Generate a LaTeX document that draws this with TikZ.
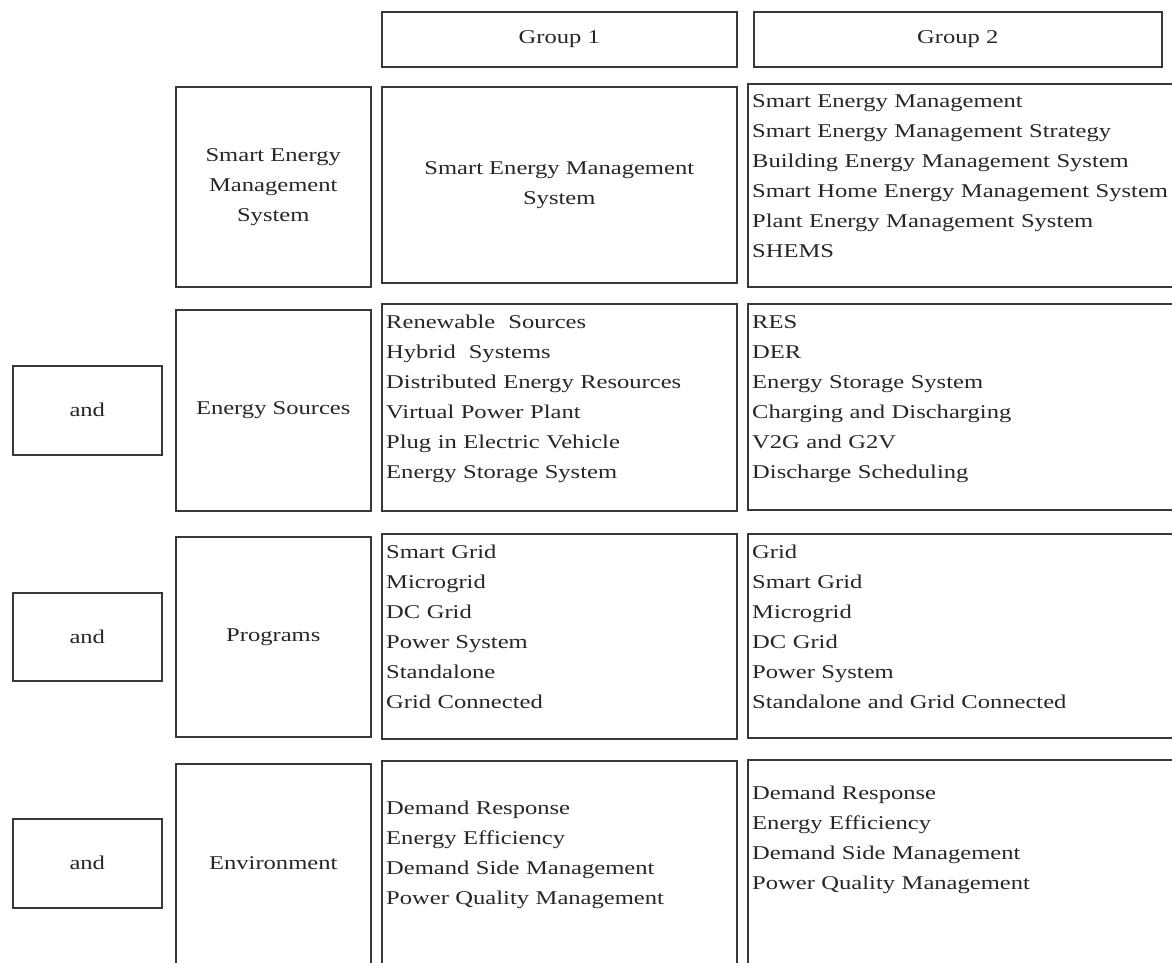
\documentclass[tikz,border=0pt]{standalone}
\usepackage{fontspec}
\setmainfont{Liberation Serif}[FakeStretch=1.26]
\newcommand\fsz{\fontsize{19.5}{30}\selectfont}
\newcommand\bx[5]{\node[box, minimum width={(#4-#2)*1pt}, minimum height={(#5-#3)*1pt}, anchor=north west] (#1) at (#2,#3) {};}
\tikzset{
  box/.style={draw=black!78, line width=1.5pt, rectangle, inner sep=0pt, fill=none},
  ctext/.style={align=center, font=\fsz, text=black!85, inner sep=0pt},
  ltext/.style={align=left, text width=420pt, anchor=base west, font=\fsz, text=black!85, inner sep=0pt},
}
\begin{document}
\begin{tikzpicture}[x=1pt, y=-1pt]
\useasboundingbox (0,0) rectangle (1172,962);
\clip (0,0) rectangle (1172,962);
% headers
\bx{hg1}{381}{11}{736}{66}
\bx{hg2}{753}{11}{1161}{66}
% row 1
\bx{lab1}{175}{86}{370}{286}
\bx{g1r1}{381}{86}{736}{282}
\bx{g2r1}{747}{83}{1190}{286}
% row 2
\bx{and2}{12}{365}{161}{454}
\bx{lab2}{175}{309}{370}{510}
\bx{g1r2}{381}{303}{736}{510}
\bx{g2r2}{747}{303}{1190}{509}
% row 3
\bx{and3}{12}{592}{161}{680}
\bx{lab3}{175}{536}{370}{736}
\bx{g1r3}{381}{533}{736}{738}
\bx{g2r3}{747}{533}{1190}{737}
% row 4
\bx{and4}{12}{818}{161}{907}
\bx{lab4}{175}{763}{370}{985}
\bx{g1r4}{381}{760}{736}{985}
\bx{g2r4}{747}{759}{1190}{985}

% header texts
\node[ctext] (thg1) at (hg1.center) {Group 1};
\node[ctext] (thg2) at (hg2.center) {Group 2};

% label texts
\node[ctext] (tlab1) at (lab1.center) {Smart Energy\\Management\\System};
\node[ctext] (tlab2) at (lab2.center) {Energy Sources};
\node[ctext] (tlab3) at (lab3.center) {Programs};
\node[ctext] (tlab4) at (lab4.center |- and4.center) {Environment};
\node[ctext] (tand2) at (and2.center) {and};
\node[ctext] (tand3) at (and3.center) {and};
\node[ctext] (tand4) at (and4.center) {and};

% row 1 contents
\node[ctext] (tg1r1) at (g1r1.center) {Smart Energy Management\\System};
\node[ltext] (tg2r1) at ([xshift=5pt, yshift=-24pt]g2r1.north west) {Smart Energy Management\\Smart Energy Management Strategy\\Building Energy Management System\\Smart Home Energy Management System\\Plant Energy Management System\\SHEMS};

% row 2 contents
\node[ltext] (tg1r2) at ([xshift=5pt, yshift=-25pt]g1r2.north west) {Renewable\ \ Sources\\Hybrid\ \ Systems\\Distributed Energy Resources\\Virtual Power Plant\\Plug in Electric Vehicle\\Energy Storage System};
\node[ltext] (tg2r2) at ([xshift=5pt, yshift=-25pt]g2r2.north west) {RES\\DER\\Energy Storage System\\Charging and Discharging\\V2G and G2V\\Discharge Scheduling};

% row 3 contents
\node[ltext] (tg1r3) at ([xshift=5pt, yshift=-25pt]g1r3.north west) {Smart Grid\\Microgrid\\DC Grid\\Power System\\Standalone\\Grid Connected};
\node[ltext] (tg2r3) at ([xshift=5pt, yshift=-25pt]g2r3.north west) {Grid\\Smart Grid\\Microgrid\\DC Grid\\Power System\\Standalone and Grid Connected};

% row 4 contents
\node[ltext] (tg1r4) at ([xshift=5pt, yshift=-54pt]g1r4.north west) {Demand Response\\Energy Efficiency\\Demand Side Management\\Power Quality Management};
\node[ltext] (tg2r4) at ([xshift=5pt, yshift=-40pt]g2r4.north west) {Demand Response\\Energy Efficiency\\Demand Side Management\\Power Quality Management};
\end{tikzpicture}
\end{document}
